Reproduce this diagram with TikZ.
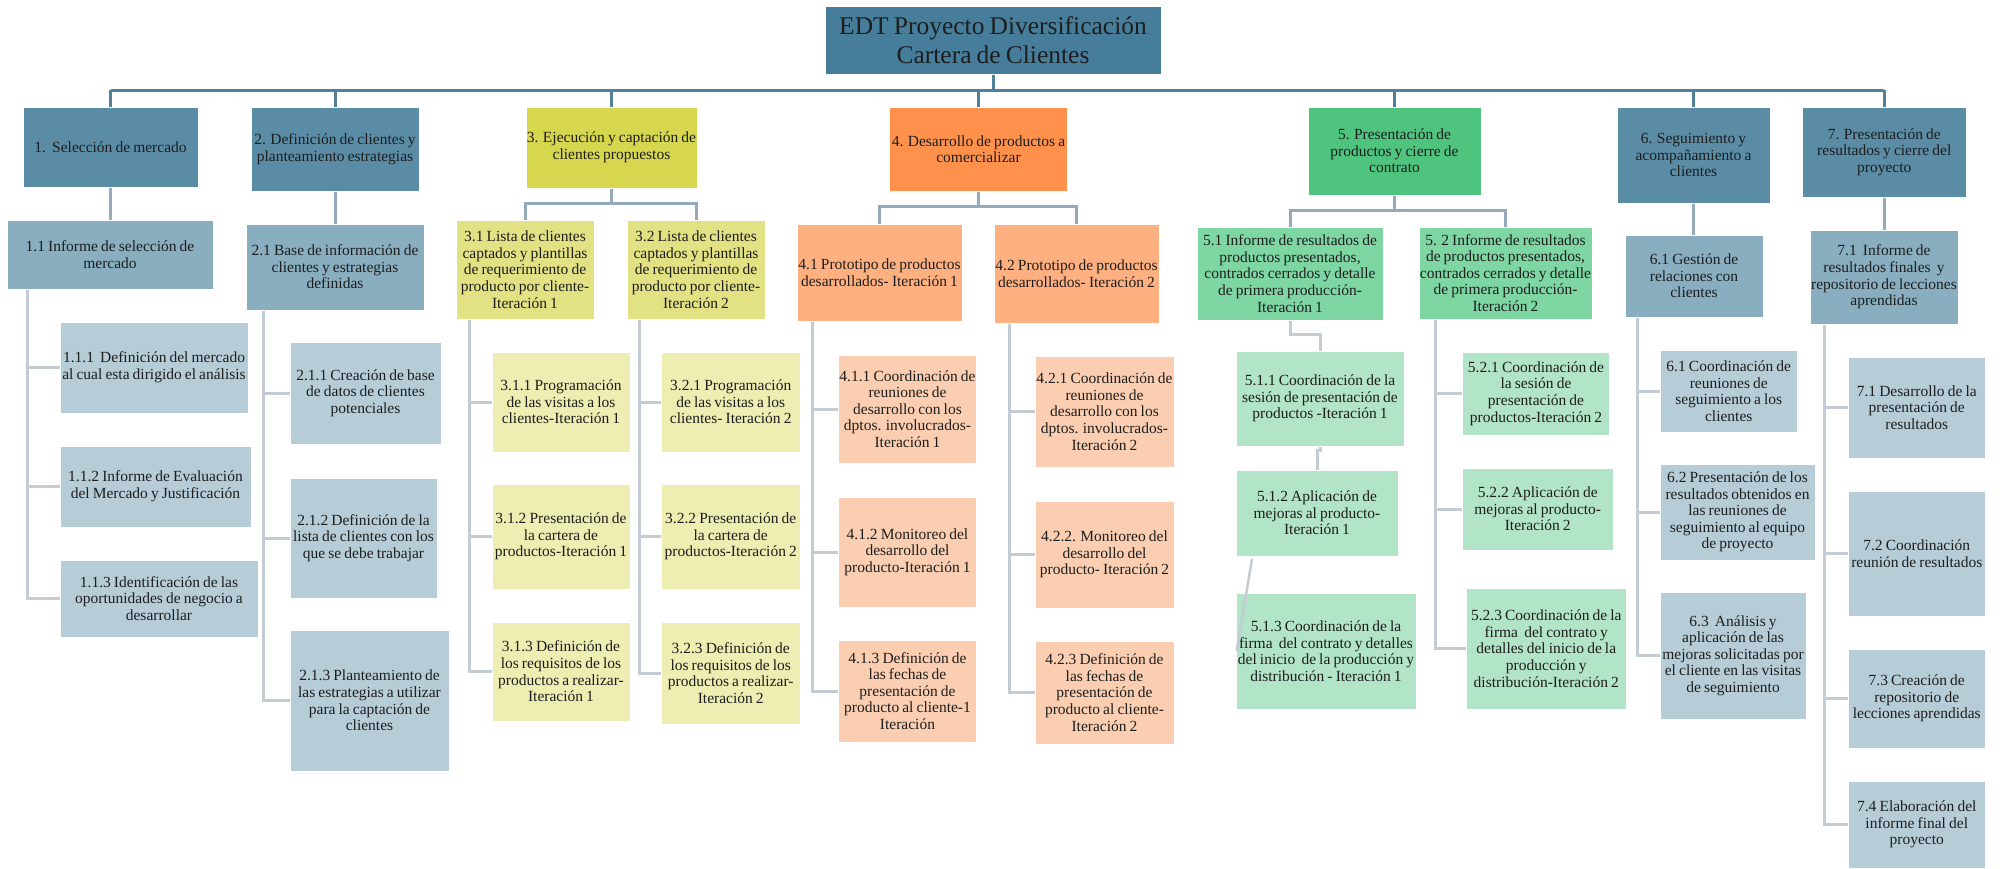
\documentclass[tikz,border=0pt]{standalone}
\usepackage{fontspec}
\setmainfont{Liberation Serif}[WordSpace=0.8]
\usetikzlibrary{backgrounds}

% fills of the work-breakdown levels
\definecolor{rootc}{HTML}{467D9B}
\definecolor{lvA}{HTML}{5A8CA6}
\definecolor{lvAy}{HTML}{D7D74F}
\definecolor{lvAo}{HTML}{FF914D}
\definecolor{lvAg}{HTML}{4EC47F}
\definecolor{lvB}{HTML}{88AEC0}
\definecolor{lvBy}{HTML}{E2E285}
\definecolor{lvBo}{HTML}{FFB081}
\definecolor{lvBg}{HTML}{7ED6A3}
\definecolor{lvC}{HTML}{B6CDD8}
\definecolor{lvCy}{HTML}{EEEDB2}
\definecolor{lvCo}{HTML}{FBCEB1}
\definecolor{lvCg}{HTML}{B2E4C7}
\definecolor{busc}{HTML}{527F9A}
\definecolor{branchc}{HTML}{94A9BA}
\definecolor{spinec}{HTML}{C3CCD5}
\definecolor{inkc}{HTML}{1E1E1E}

% \wbs{name}{x1}{y1}{x2}{y2}{style}{text}
\newcommand\wbs[7]{%
  \node[box,#6,minimum width={(#4)-(#2)},minimum height={(#5)-(#3)}]
    (#1) at ({((#2)+(#4))/2},{((#3)+(#5))/2}) {#7};}

\begin{document}
\begin{tikzpicture}[x=1pt,y=-1pt,
  box/.style={rectangle,draw=white,line width=0.8pt,inner sep=0pt,align=center,
    text=inkc,font=\fontsize{15.5}{16.6}\selectfont},
  rootbox/.style={fill=rootc,font=\fontsize{25.5}{28.4}\selectfont},
  l1/.style={fill=lvA}, l1y/.style={fill=lvAy}, l1o/.style={fill=lvAo}, l1g/.style={fill=lvAg},
  l2/.style={fill=lvB}, l2y/.style={fill=lvBy}, l2o/.style={fill=lvBo}, l2g/.style={fill=lvBg},
  l3/.style={fill=lvC}, l3y/.style={fill=lvCy}, l3o/.style={fill=lvCo}, l3g/.style={fill=lvCg},
  bus/.style={draw=busc,line width=3pt},
  branch/.style={draw=branchc,line width=3pt},
  spine/.style={draw=spinec,line width=3pt},
]
\useasboundingbox (0,0) rectangle (2000,869);

% root
\wbs{root}{825}{6}{1161}{74}{rootbox}{EDT Proyecto Diversificación\\Cartera de Clientes}

% level 1
\wbs{n1}{23}{107}{198}{187}{l1}{1.\ \ Selección de mercado}
\wbs{n2}{251}{107}{419}{191}{l1}{2. Definición de clientes y\\planteamiento estrategias}
\wbs{n3}{526}{107}{697}{188}{l1y}{3. Ejecución y captación de\\clientes propuestos}
\wbs{n4}{889.5}{107}{1067.5}{191}{l1o}{4. Desarrollo de productos a\\comercializar}
\wbs{n5}{1308}{107}{1481}{195}{l1g}{5. Presentación de\\productos y cierre de\\contrato}
\wbs{n6}{1617}{107}{1770}{203}{l1}{6. Seguimiento y\\acompañamiento a\\clientes}
\wbs{n7}{1802.5}{107}{1966}{197}{l1}{7. Presentación de\\resultados y cierre del\\proyecto}

% level 2
\wbs{n11}{7}{220}{213}{289}{l2}{1.1 Informe de selección de\\mercado}
\wbs{n21}{246}{224}{424}{310}{l2}{2.1 Base de información de\\clientes y estrategias\\definidas}
\wbs{n31}{456}{220}{594}{319}{l2y}{3.1 Lista de clientes\\captados y plantillas\\de requerimiento de\\producto por cliente-\\Iteración 1}
\wbs{n32}{627}{220}{765}{319}{l2y}{3.2 Lista de clientes\\captados y plantillas\\de requerimiento de\\producto por cliente-\\Iteración 2}
\wbs{n41}{797}{224}{962}{321}{l2o}{4.1 Prototipo de productos\\desarrollados- Iteración 1}
\wbs{n42}{994}{224}{1159}{323}{l2o}{4.2 Prototipo de productos\\desarrollados- Iteración 2}
\wbs{n51}{1197}{227}{1383}{320}{l2g}{5.1 Informe de resultados de\\productos presentados,\\contrados cerrados y detalle\\de primera producción-\\Iteración 1}
\wbs{n52}{1419}{227}{1592}{319}{l2g}{5. 2 Informe de resultados\\de productos presentados,\\contrados cerrados y detalle\\de primera producción-\\Iteración 2}
\wbs{n61}{1625}{235}{1763}{317}{l2}{6.1 Gestión de\\relaciones con\\clientes}
\wbs{n71}{1810}{230}{1958}{324}{l2}{7.1\ \ Informe de\\resultados finales\ \ y\\repositorio de lecciones\\aprendidas}

% level 3: 1.1
\wbs{n111}{60}{322}{248}{413}{l3}{1.1.1\ \ Definición del mercado\\al cual esta dirigido el análisis}
\wbs{n112}{60}{446}{251}{527}{l3}{1.1.2 Informe de Evaluación\\del Mercado y Justificación}
\wbs{n113}{60}{560}{258}{637}{l3}{1.1.3 Identificación de las\\oportunidades de negocio a\\desarrollar}
% 2.1
\wbs{n211}{290}{342}{441}{444}{l3}{2.1.1 Creación de base\\de datos de clientes\\potenciales}
\wbs{n212}{290}{478}{437}{598}{l3}{2.1.2 Definición de la\\lista de clientes con los\\que se debe trabajar}
\wbs{n213}{290}{630}{449}{771}{l3}{2.1.3 Planteamiento de\\las estrategias a utilizar\\para la captación de\\clientes}
% 3.1
\wbs{n311}{492}{352}{630}{452}{l3y}{3.1.1 Programación\\de las visitas a los\\clientes-Iteración 1}
\wbs{n312}{492}{484}{630}{589}{l3y}{3.1.2 Presentación de\\la cartera de\\productos-Iteración 1}
\wbs{n313}{492}{622}{630}{721}{l3y}{3.1.3 Definición de\\los requisitos de los\\productos a realizar-\\Iteración 1}
% 3.2
\wbs{n321}{661.5}{352}{800}{452}{l3y}{3.2.1 Programación\\de las visitas a los\\clientes- Iteración 2}
\wbs{n322}{661.5}{484}{800}{589}{l3y}{3.2.2 Presentación de\\la cartera de\\productos-Iteración 2}
\wbs{n323}{661.5}{622}{800}{724}{l3y}{3.2.3 Definición de\\los requisitos de los\\productos a realizar-\\Iteración 2}
% 4.1
\wbs{n411}{838.5}{355}{976.5}{463}{l3o}{4.1.1 Coordinación de\\reuniones de\\desarrollo con los\\dptos. involucrados-\\Iteración 1}
\wbs{n412}{838.5}{497}{976.5}{607}{l3o}{4.1.2 Monitoreo del\\desarrollo del\\producto-Iteración 1}
\wbs{n413}{838.5}{640}{976.5}{742}{l3o}{4.1.3 Definición de\\las fechas de\\presentación de\\producto al cliente-1\\Iteración}
% 4.2
\wbs{n421}{1035}{356}{1174}{467}{l3o}{4.2.1 Coordinación de\\reuniones de\\desarrollo con los\\dptos. involucrados-\\Iteración 2}
\wbs{n422}{1035}{501}{1174}{608}{l3o}{4.2.2. Monitoreo del\\desarrollo del\\producto- Iteración 2}
\wbs{n423}{1035}{641}{1174}{744}{l3o}{4.2.3 Definición de\\las fechas de\\presentación de\\producto al cliente-\\Iteración 2}
% 5.1
\wbs{n511}{1236}{351}{1404}{446}{l3g}{5.1.1 Coordinación de la\\sesión de presentación de\\productos -Iteración 1}
\wbs{n512}{1236}{470}{1398}{556}{l3g}{5.1.2 Aplicación de\\mejoras al producto-\\Iteración 1}
\wbs{n513}{1236}{593}{1416}{709}{l3g}{5.1.3 Coordinación de la\\firma\ \ del contrato y detalles\\del inicio\ \ de la producción y\\distribución - Iteración 1}
% 5.2
\wbs{n521}{1462.5}{352}{1609.5}{435}{l3g}{5.2.1 Coordinación de\\la sesión de\\presentación de\\productos-Iteración 2}
\wbs{n522}{1462.5}{468}{1613}{550}{l3g}{5.2.2 Aplicación de\\mejoras al producto-\\Iteración 2}
\wbs{n523}{1466.5}{588}{1626}{709}{l3g}{5.2.3 Coordinación de la\\firma\ \ del contrato y\\detalles del inicio de la\\producción y\\distribución-Iteración 2}
% 6.1
\wbs{n611}{1660}{350}{1797.5}{432}{l3}{6.1 Coordinación de\\reuniones de\\seguimiento a los\\clientes}
\wbs{n612}{1660}{464}{1815}{560}{l3}{6.2 Presentación de los\\resultados obtenidos en\\las reuniones de\\seguimiento al equipo\\de proyecto}
\wbs{n613}{1660}{592}{1806}{719}{l3}{6.3\ \ Análisis y\\aplicación de las\\mejoras solicitadas por\\el cliente en las visitas\\de seguimiento}
% 7.1
\wbs{n711}{1848}{357}{1985.5}{458}{l3}{7.1 Desarrollo de la\\presentación de\\resultados}
\wbs{n712}{1848}{491}{1985.5}{616}{l3}{7.2 Coordinación\\reunión de resultados}
\wbs{n713}{1848}{649}{1985.5}{748}{l3}{7.3 Creación de\\repositorio de\\lecciones aprendidas}
\wbs{n714}{1848}{781}{1985.5}{868}{l3}{7.4 Elaboración del\\informe final del\\proyecto}

\begin{scope}[on background layer]
  % top bus
  \coordinate (busy) at (0,90.5);
  \draw[bus] (root.south) -- (root.south |- busy);
  \draw[bus] (n1.north |- busy) -- (n7.north |- busy);
  \foreach \n in {n1,n2,n3,n4,n5,n6,n7}
    \draw[bus] (\n.north |- busy) -- (\n.north);

  % level 1 to level 2
  \draw[branch] (n1.south) -- (n1.south |- n11.north);
  \draw[branch] (n2.south) -- (n2.south |- n21.north);
  \draw[branch] (n6.south) -- (n6.south |- n61.north);
  \draw[branch] (n7.south) -- (n7.south |- n71.north);
  \coordinate (j3) at (611.5,204);
  \draw[branch] (n3.south) -- (j3);
  \draw[branch] (n31.north) |- (j3) -| (n32.north);
  \coordinate (j4) at (978.5,207);
  \draw[branch] (n4.south) -- (j4);
  \draw[branch] (n41.north) |- (j4) -| (n42.north);
  \coordinate (j5) at (1394.5,211);
  \draw[branch] (n5.south) -- (j5);
  \draw[branch] (n51.north) |- (j5) -| (n52.north);

  % level 2 to level 3: side spines
  \coordinate (s11) at (27,289);
  \coordinate (s21) at (263,310);
  \coordinate (s31) at (469,319);
  \coordinate (s32) at (639,319);
  \coordinate (s41) at (812,321);
  \coordinate (s42) at (1009,323);
  \coordinate (s52) at (1435,319);
  \coordinate (s61) at (1637,317);
  \coordinate (s71) at (1824,324);
  \draw[spine] (s11) |- (n113.west);
  \draw[spine] (s11 |- n111.west) -- (n111.west);
  \draw[spine] (s11 |- n112.west) -- (n112.west);
  \draw[spine] (s21) |- (n213.west);
  \draw[spine] (s21 |- n211.west) -- (n211.west);
  \draw[spine] (s21 |- n212.west) -- (n212.west);
  \draw[spine] (s31) |- (n313.west);
  \draw[spine] (s31 |- n311.west) -- (n311.west);
  \draw[spine] (s31 |- n312.west) -- (n312.west);
  \draw[spine] (s32) |- (n323.west);
  \draw[spine] (s32 |- n321.west) -- (n321.west);
  \draw[spine] (s32 |- n322.west) -- (n322.west);
  \draw[spine] (s41) |- (n413.west);
  \draw[spine] (s41 |- n411.west) -- (n411.west);
  \draw[spine] (s41 |- n412.west) -- (n412.west);
  \draw[spine] (s42) |- (n423.west);
  \draw[spine] (s42 |- n421.west) -- (n421.west);
  \draw[spine] (s42 |- n422.west) -- (n422.west);
  \draw[spine] (s52) |- (n523.west);
  \draw[spine] (s52 |- n521.west) -- (n521.west);
  \draw[spine] (s52 |- n522.west) -- (n522.west);
  \draw[spine] (s61) |- (n613.west);
  \draw[spine] (s61 |- n611.west) -- (n611.west);
  \draw[spine] (s61 |- n612.west) -- (n612.west);
  \draw[spine] (s71) |- (n714.west);
  \draw[spine] (s71 |- n711.west) -- (n711.west);
  \draw[spine] (s71 |- n712.west) -- (n712.west);
  \draw[spine] (s71 |- n713.west) -- (n713.west);

  % 5.1 chain
  \coordinate (k51) at (1290,334);
  \draw[spine] (n51.south) -- (k51) -| (n511.north);
  \coordinate (k511) at (1320,450);
  \draw[spine] (n511.south) -- (k511) -| (n512.north);
\end{scope}
% stray link from 5.1.2 running over 5.1.3
\coordinate (d512) at (1252,559);
\draw[draw=spinec,line width=2.5pt] (d512) -- ([xshift=1pt]n513.west);
\end{tikzpicture}
\end{document}
